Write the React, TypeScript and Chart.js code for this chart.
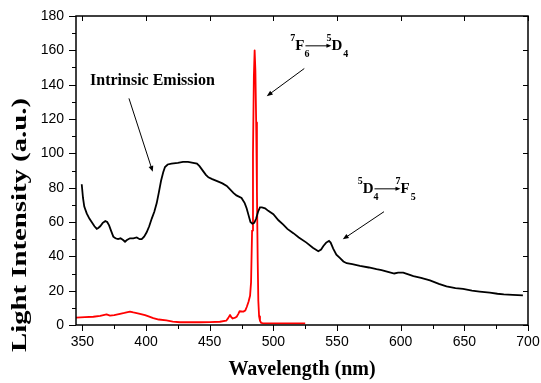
import React, { useEffect, useRef } from 'react';
import { Chart, registerables } from 'chart.js';

Chart.register(...registerables);

// ---- data ----
const blackWavelength = [
  349.5, 350.5, 351.5, 353.4, 355.5, 357.3, 359.5, 361.3, 362.5, 364, 366, 368, 369.5, 371, 372.5, 374.3,
  376, 378, 380, 382, 383.5, 385, 387.4, 390, 392.7, 395, 396.6, 398.5, 400.5, 402.5, 404.5, 406.5,
  408.4, 410, 411.8, 413.5, 414.9, 417, 420, 425, 429, 433, 437, 440, 442, 445, 447, 449, 452, 456.8,
  460, 463.4, 466, 468.6, 471, 475, 477.5, 479, 480.5, 482, 483.5, 485, 486.5, 488, 489.5, 491, 493.5,
  496, 500, 504, 507.8, 511, 515.7, 520, 526, 531, 535.3, 537.5, 539.3, 541.5, 543.7, 545, 547, 549.5,
  552.4, 555, 557.6, 562, 568, 575, 581, 585, 590, 595, 598, 602, 606, 610, 616, 623, 630, 636, 643,
  649, 656, 662, 670, 676, 681, 688, 696,
];
const blackIntensity = [
  82, 74, 69, 65, 62, 60, 57.5, 56, 56.5, 57.5, 59.5, 60.5, 60, 58, 55, 51.5,
  50.5, 50, 50.5, 49.5, 48.5, 49.5, 50.5, 50.5, 51, 50, 50, 51.5, 54, 57.5, 62, 66,
  71, 77, 84, 89, 92, 93.5, 94, 94.5, 95, 95, 94.5, 94, 92.5, 89.5, 87.5, 86, 85, 83.5,
  82.5, 81, 79, 77, 75.5, 74, 71, 68, 64, 60, 59, 59.5, 62, 66, 68.5, 68.5, 68,
  66.5, 64.5, 61, 58.5, 56, 53.5, 51, 48, 45, 43, 44, 46, 48, 49, 48, 44.5, 41,
  39, 37, 36, 35.5, 34.5, 33.5, 32.5, 32, 31, 30, 30.5, 30.5, 29.5, 28.5, 27.5, 26, 24, 22.5, 21.5,
  21, 20, 19.5, 18.8, 18.2, 17.8, 17.5, 17.2,
];

const redWavelength = [
  345, 352, 358.6, 364, 369, 371.7, 375, 379.6, 383, 387.4, 390, 392.7, 396, 399.2, 402, 405.7, 410,
  416, 421, 426.7, 435, 442.4, 450, 458, 463, 464.5, 466, 467, 468.1, 470, 471.2, 472.5, 473.5, 476.4,
  478, 479.1, 480.5, 481.7, 482.5, 483.3, 484, 484.7, 485.3, 485.9, 486.5, 487.1, 487.7, 488.2, 488.8,
  489.5, 490.5, 492, 500, 510, 520, 525,
];
const redIntensity = [
  4.3, 4.6, 4.8, 5.3, 6.2, 5.5, 5.8, 6.5, 7, 7.8, 7.3, 6.9, 6.4, 5.8, 5, 4, 3.2,
  2.7, 2, 1.6, 1.6, 1.6, 1.7, 1.9, 2.5, 4, 5.8, 4.5, 3.8, 4.3, 4.8, 6.5, 8, 7.8,
  8.5, 10.5, 13.5, 17, 25, 55, 100, 145, 160, 148, 118, 78, 38, 14, 5,
  2.5, 1.2, 1, 1, 1, 1, 1,
];

const xRange = [345, 700];
const yRange = [0, 180];
const xTickValues = [350, 400, 450, 500, 550, 600, 650, 700];
const xMinorTickValues = [375, 425, 475, 525, 575, 625, 675];
const yTickValues = [0, 20, 40, 60, 80, 100, 120, 140, 160, 180];
const yMinorTickValues = [10, 30, 50, 70, 90, 110, 130, 150, 170];

const xTitle = 'Wavelength (nm)';
const yTitle = 'Light Intensity (a.u.)';

// annotations in data coordinates
const intrinsicLabel = { text: 'Intrinsic Emission', x: 356, y: 139.7 };
const intrinsicArrow = { x1: 386.6, y1: 132, x2: 405.3, y2: 89.2 };
const term1 = { x: 513.3, y: 160, sup1: '7', main1: 'F', sub1: '6', sup2: '5', main2: 'D', sub2: '4' };
const term1Arrow = { x1: 524.3, y1: 149.4, x2: 494.8, y2: 133.3 };
const term2 = { x: 566.2, y: 76.7, sup1: '5', main1: 'D', sub1: '4', sup2: '7', main2: 'F', sub2: '5' };
const term2Arrow = { x1: 586.9, y1: 66, x2: 554.5, y2: 49.9 };

const SERIF = '"Liberation Serif", "Times New Roman", serif';
const SANS = '"Liberation Sans", Arial, sans-serif';

function drawArrow(ctx: CanvasRenderingContext2D, x1: number, y1: number, x2: number, y2: number, head = 6, lw = 1) {
  const ang = Math.atan2(y2 - y1, x2 - x1);
  ctx.save();
  ctx.strokeStyle = '#000';
  ctx.fillStyle = '#000';
  ctx.lineWidth = lw;
  ctx.beginPath();
  ctx.moveTo(x1, y1);
  ctx.lineTo(x2 - Math.cos(ang) * head * 0.6, y2 - Math.sin(ang) * head * 0.6);
  ctx.stroke();
  ctx.beginPath();
  ctx.moveTo(x2, y2);
  ctx.lineTo(x2 - head * Math.cos(ang) + (head * 0.4) * Math.sin(ang), y2 - head * Math.sin(ang) - (head * 0.4) * Math.cos(ang));
  ctx.lineTo(x2 - head * Math.cos(ang) - (head * 0.4) * Math.sin(ang), y2 - head * Math.sin(ang) + (head * 0.4) * Math.cos(ang));
  ctx.closePath();
  ctx.fill();
  ctx.restore();
}

function drawTerm(ctx: CanvasRenderingContext2D, px: number, py: number, t: typeof term1) {
  ctx.save();
  ctx.fillStyle = '#000';
  ctx.textBaseline = 'alphabetic';
  ctx.textAlign = 'left';
  const mainFont = `bold 15px ${SERIF}`;
  const smallFont = `bold 10px ${SERIF}`;
  let x = px;
  ctx.font = smallFont;
  ctx.fillText(t.sup1, x, py - 9);
  x += ctx.measureText(t.sup1).width;
  ctx.font = mainFont;
  ctx.fillText(t.main1, x, py);
  x += ctx.measureText(t.main1).width;
  ctx.font = smallFont;
  ctx.fillText(t.sub1, x, py + 6.5);
  drawArrow(ctx, x + 1, py - 4.5, x + 27, py - 4.5, 5, 1);
  ctx.font = smallFont;
  ctx.fillText(t.sup2, x + 22, py - 9);
  ctx.font = mainFont;
  ctx.fillText(t.main2, x + 27, py);
  const w2 = ctx.measureText(t.main2).width;
  ctx.font = smallFont;
  ctx.fillText(t.sub2, x + 27 + w2 + 1, py + 6.5);
  ctx.restore();
}

const decorPlugin = {
  id: 'decor',
  afterDraw(chart: any) {
    const { ctx, chartArea, scales } = chart;
    const { left, right, top, bottom } = chartArea;
    const xs = scales.x;
    const ys = scales.y;
    ctx.save();
    // frame
    ctx.strokeStyle = '#000';
    ctx.lineWidth = 1.5;
    ctx.beginPath();
    ctx.rect(left, top, right - left, bottom - top);
    ctx.stroke();
    // ticks
    ctx.lineWidth = 1;
    ctx.beginPath();
    for (const v of yTickValues) {
      const p = Math.round(ys.getPixelForValue(v)) + 0.5;
      ctx.moveTo(left - 7, p); ctx.lineTo(left, p);
      ctx.moveTo(right - 5, p); ctx.lineTo(right, p);
    }
    for (const v of yMinorTickValues) {
      const p = Math.round(ys.getPixelForValue(v)) + 0.5;
      ctx.moveTo(left - 4, p); ctx.lineTo(left, p);
    }
    for (const v of xTickValues) {
      const p = Math.round(xs.getPixelForValue(v)) + 0.5;
      ctx.moveTo(p, bottom); ctx.lineTo(p, bottom + 6);
      ctx.moveTo(p, top); ctx.lineTo(p, top + 5);
    }
    for (const v of xMinorTickValues) {
      const p = Math.round(xs.getPixelForValue(v)) + 0.5;
      ctx.moveTo(p, bottom); ctx.lineTo(p, bottom + 4);
    }
    ctx.stroke();

    // axis titles
    ctx.fillStyle = '#000';
    ctx.font = `bold 20px ${SERIF}`;
    ctx.textAlign = 'center';
    ctx.textBaseline = 'alphabetic';
    ctx.fillText(xTitle, (left + right) / 2, 375);
    ctx.save();
    ctx.translate(26, 225);
    ctx.rotate(-Math.PI / 2);
    const plain = ctx.measureText(yTitle).width;
    ctx.scale(254 / plain, 1);
    ctx.textAlign = 'center';
    ctx.fillText(yTitle, 0, 0);
    ctx.restore();

    // annotations
    ctx.font = `bold 16px ${SERIF}`;
    ctx.textAlign = 'left';
    ctx.fillText(intrinsicLabel.text, xs.getPixelForValue(intrinsicLabel.x), ys.getPixelForValue(intrinsicLabel.y));
    drawArrow(ctx, xs.getPixelForValue(intrinsicArrow.x1), ys.getPixelForValue(intrinsicArrow.y1),
      xs.getPixelForValue(intrinsicArrow.x2), ys.getPixelForValue(intrinsicArrow.y2), 6, 1);
    drawTerm(ctx, xs.getPixelForValue(term1.x), ys.getPixelForValue(term1.y), term1);
    drawArrow(ctx, xs.getPixelForValue(term1Arrow.x1), ys.getPixelForValue(term1Arrow.y1),
      xs.getPixelForValue(term1Arrow.x2), ys.getPixelForValue(term1Arrow.y2), 6, 1);
    drawTerm(ctx, xs.getPixelForValue(term2.x), ys.getPixelForValue(term2.y), term2);
    drawArrow(ctx, xs.getPixelForValue(term2Arrow.x1), ys.getPixelForValue(term2Arrow.y1),
      xs.getPixelForValue(term2Arrow.x2), ys.getPixelForValue(term2Arrow.y2), 6, 1);
    ctx.restore();
  },
};

export default function App() {
  const canvasRef = useRef<HTMLCanvasElement | null>(null);

  useEffect(() => {
    if (!canvasRef.current) return;
    const black = blackWavelength.map((x, i) => ({ x, y: blackIntensity[i] }));
    const red = redWavelength.map((x, i) => ({ x, y: redIntensity[i] }));
    const chart = new Chart(canvasRef.current, {
      type: 'line',
      data: {
        datasets: [
          {
            label: 'Intrinsic',
            data: black,
            borderColor: '#000000',
            borderWidth: 1.8,
            pointRadius: 0,
            tension: 0,
            fill: false,
          },
          {
            label: 'Tb',
            data: red,
            borderColor: '#ff0000',
            borderWidth: 1.8,
            borderJoinStyle: 'round',
            pointRadius: 0,
            tension: 0,
            fill: false,
          },
        ],
      },
      options: {
        animation: false,
        responsive: true,
        maintainAspectRatio: false,
        layout: { padding: { top: 16, right: 13, left: 0, bottom: 0 } },
        plugins: { legend: { display: false }, tooltip: { enabled: false } },
        scales: {
          x: {
            type: 'linear',
            min: xRange[0],
            max: xRange[1],
            afterBuildTicks: (scale: any) => {
              scale.ticks = xTickValues.map((v) => ({ value: v }));
            },
            afterFit: (scale: any) => {
              scale.height = 58;
              scale.paddingLeft = 0;
              scale.paddingRight = 0;
            },
            grid: { display: false, drawTicks: false },
            border: { display: false },
            ticks: {
              autoSkip: false,
              maxRotation: 0,
              padding: 9,
              color: '#000',
              font: { family: SANS, size: 14 },
            },
          },
          y: {
            type: 'linear',
            min: yRange[0],
            max: yRange[1],
            afterBuildTicks: (scale: any) => {
              scale.ticks = yTickValues.map((v) => ({ value: v }));
            },
            afterFit: (scale: any) => {
              scale.width = 76;
              scale.paddingTop = 0;
              scale.paddingBottom = 0;
            },
            grid: { display: false, drawTicks: false },
            border: { display: false },
            ticks: {
              padding: 12,
              color: '#000',
              font: { family: SANS, size: 14 },
            },
          },
        },
      },
      plugins: [decorPlugin],
    });
    return () => chart.destroy();
  }, []);

  return (
    <div style={{ position: 'absolute', left: 0, top: 0, width: 541, height: 383, background: '#fff' }}>
      <canvas ref={canvasRef} />
    </div>
  );
}
